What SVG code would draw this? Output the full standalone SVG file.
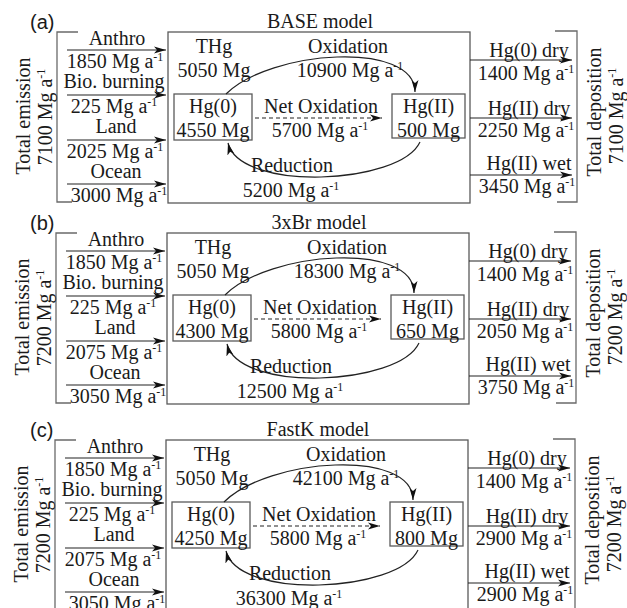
<svg xmlns="http://www.w3.org/2000/svg" width="627" height="608" viewBox="0 0 627 608">
<style>
text{font-family:"Liberation Serif","Times New Roman",serif;font-size:20px;fill:#1a1a1a}
text.lab{font-family:"Liberation Sans",Arial,sans-serif;font-size:20px}
.m{text-anchor:middle}
.box{fill:none;stroke:#5a5a5a;stroke-width:1.3}
.br{fill:none;stroke:#6a6a6a;stroke-width:1.3}
.ar{fill:none;stroke:#222;stroke-width:1.2;marker-end:url(#ah)}
.ds{fill:none;stroke:#222;stroke-width:1.2;stroke-dasharray:4 3;marker-end:url(#ah)}
</style>
<defs>
<marker id="ah" viewBox="0 0 12 8" refX="12" refY="4" markerWidth="12" markerHeight="8" orient="auto" markerUnits="userSpaceOnUse">
<path d="M0,0.5 L12,4 L0,7.5 L3,4 Z" fill="#111"/>
</marker>
</defs>
<rect width="627" height="608" fill="#fff"/>

<!-- Panel (a) -->
<g id="panel-a">
<text class="lab" x="30" y="29">(a)</text>
<g id="a-emission">
<path class="br" d="M78,32 H57 V202 H72"/>
<text class="m" transform="translate(30,116) rotate(-90)">Total emission</text>
<text class="m" transform="translate(52,117) rotate(-90)">7100 Mg a<tspan dy="-7" font-size="12">-1</tspan></text>
</g>
<g id="a-anthro"><text class="m" x="117" y="45">Anthro</text><text class="m" x="115" y="68">1850 Mg a<tspan dy="-7" font-size="12">-1</tspan></text></g>
<g id="a-bio"><text class="m" x="114" y="88">Bio. burning</text><text class="m" x="114" y="113">225 Mg a<tspan dy="-7" font-size="12">-1</tspan></text></g>
<g id="a-land"><text class="m" x="116" y="133">Land</text><text class="m" x="115" y="158">2025 Mg a<tspan dy="-7" font-size="12">-1</tspan></text></g>
<g id="a-ocean"><text class="m" x="116" y="178">Ocean</text><text class="m" x="119" y="202">3000 Mg a<tspan dy="-7" font-size="12">-1</tspan></text></g>
<g id="a-model">
<rect class="box" x="168" y="32" width="302" height="171"/>
<text class="m" x="320" y="28">BASE model</text>
</g>
<g id="a-thg"><text class="m" x="214" y="53">THg</text><text class="m" x="214" y="77">5050 Mg</text></g>
<g id="a-hg0"><rect class="box" x="174" y="94" width="78" height="46"/><text class="m" x="213" y="113">Hg(0)</text><text class="m" x="213" y="137">4550 Mg</text></g>
<g id="a-hg2"><rect class="box" x="392" y="94" width="73" height="44"/><text class="m" x="428.5" y="113">Hg(II)</text><text class="m" x="428.5" y="137">500 Mg</text></g>
<g id="a-hg0dry"><text class="m" x="529" y="57">Hg(0) dry</text><text class="m" x="526" y="80">1400 Mg a<tspan dy="-7" font-size="12">-1</tspan></text></g>
<g id="a-hg2dry"><text class="m" x="529" y="115">Hg(II) dry</text><text class="m" x="526" y="137">2250 Mg a<tspan dy="-7" font-size="12">-1</tspan></text></g>
<g id="a-hg2wet"><text class="m" x="529" y="170">Hg(II) wet</text><text class="m" x="527" y="193">3450 Mg a<tspan dy="-7" font-size="12">-1</tspan></text></g>
<g id="a-deposition">
<path class="br" d="M555,31 H577 V202 H557"/>
<text class="m" transform="translate(601,112) rotate(-90)">Total deposition</text>
<text class="m" transform="translate(623,116) rotate(-90)">7100 Mg a<tspan dy="-7" font-size="12">-1</tspan></text>
</g>
<g id="a-connectors">
<line class="ar" x1="67" y1="50" x2="166" y2="50"/>
<line class="ar" x1="67" y1="95" x2="166" y2="95"/>
<line class="ar" x1="67" y1="140" x2="166" y2="140"/>
<line class="ar" x1="67" y1="184" x2="166" y2="184"/>
<line class="ar" x1="470" y1="60" x2="572" y2="60"/>
<line class="ar" x1="470" y1="118" x2="572" y2="118"/>
<line class="ar" x1="470" y1="175" x2="572" y2="175"/>
<path class="ar" d="M226,94 C270,50 415,40 415,92"/>
<line class="ds" x1="255" y1="118" x2="382" y2="118"/>
<path class="ar" d="M420,142 C400,185 240,192 228,143"/>
<text class="m" x="348" y="53">Oxidation</text>
<text class="m" x="350" y="77">10900 Mg a<tspan dy="-7" font-size="12">-1</tspan></text>
<text class="m" x="321" y="113">Net Oxidation</text>
<text class="m" x="320" y="137">5700 Mg a<tspan dy="-7" font-size="12">-1</tspan></text>
<text class="m" x="292" y="172">Reduction</text>
<text class="m" x="291" y="197">5200 Mg a<tspan dy="-7" font-size="12">-1</tspan></text>
</g>
</g>

<!-- Panel (b) -->
<g id="panel-b" transform="translate(-1,201)">
<text class="lab" x="31" y="29">(b)</text>
<g id="b-emission">
<path class="br" d="M78,32 H57 V202 H72"/>
<text class="m" transform="translate(30,116) rotate(-90)">Total emission</text>
<text class="m" transform="translate(52,117) rotate(-90)">7200 Mg a<tspan dy="-7" font-size="12">-1</tspan></text>
</g>
<g id="b-anthro"><text class="m" x="117" y="45">Anthro</text><text class="m" x="115" y="68">1850 Mg a<tspan dy="-7" font-size="12">-1</tspan></text></g>
<g id="b-bio"><text class="m" x="114" y="88">Bio. burning</text><text class="m" x="114" y="113">225 Mg a<tspan dy="-7" font-size="12">-1</tspan></text></g>
<g id="b-land"><text class="m" x="116" y="133">Land</text><text class="m" x="115" y="158">2075 Mg a<tspan dy="-7" font-size="12">-1</tspan></text></g>
<g id="b-ocean"><text class="m" x="116" y="178">Ocean</text><text class="m" x="119" y="202">3050 Mg a<tspan dy="-7" font-size="12">-1</tspan></text></g>
<g id="b-model">
<rect class="box" x="168" y="32" width="302" height="171"/>
<text class="m" x="320" y="28">3xBr model</text>
</g>
<g id="b-thg"><text class="m" x="214" y="53">THg</text><text class="m" x="214" y="77">5050 Mg</text></g>
<g id="b-hg0"><rect class="box" x="174" y="94" width="78" height="46"/><text class="m" x="213" y="113">Hg(0)</text><text class="m" x="213" y="137">4300 Mg</text></g>
<g id="b-hg2"><rect class="box" x="392" y="94" width="73" height="44"/><text class="m" x="428.5" y="113">Hg(II)</text><text class="m" x="428.5" y="137">650 Mg</text></g>
<g id="b-hg0dry"><text class="m" x="529" y="57">Hg(0) dry</text><text class="m" x="526" y="80">1400 Mg a<tspan dy="-7" font-size="12">-1</tspan></text></g>
<g id="b-hg2dry"><text class="m" x="529" y="115">Hg(II) dry</text><text class="m" x="526" y="137">2050 Mg a<tspan dy="-7" font-size="12">-1</tspan></text></g>
<g id="b-hg2wet"><text class="m" x="529" y="170">Hg(II) wet</text><text class="m" x="527" y="193">3750 Mg a<tspan dy="-7" font-size="12">-1</tspan></text></g>
<g id="b-deposition">
<path class="br" d="M555,31 H577 V202 H557"/>
<text class="m" transform="translate(601,112) rotate(-90)">Total deposition</text>
<text class="m" transform="translate(623,116) rotate(-90)">7200 Mg a<tspan dy="-7" font-size="12">-1</tspan></text>
</g>
<g id="b-connectors">
<line class="ar" x1="67" y1="50" x2="166" y2="50"/>
<line class="ar" x1="67" y1="95" x2="166" y2="95"/>
<line class="ar" x1="67" y1="140" x2="166" y2="140"/>
<line class="ar" x1="67" y1="184" x2="166" y2="184"/>
<line class="ar" x1="470" y1="60" x2="572" y2="60"/>
<line class="ar" x1="470" y1="118" x2="572" y2="118"/>
<line class="ar" x1="470" y1="175" x2="572" y2="175"/>
<path class="ar" d="M226,94 C270,50 415,40 415,92"/>
<line class="ds" x1="255" y1="118" x2="382" y2="118"/>
<path class="ar" d="M420,142 C400,185 240,192 228,143"/>
<text class="m" x="348" y="53">Oxidation</text>
<text class="m" x="348" y="77">18300 Mg a<tspan dy="-7" font-size="12">-1</tspan></text>
<text class="m" x="321" y="113">Net Oxidation</text>
<text class="m" x="320" y="137">5800 Mg a<tspan dy="-7" font-size="12">-1</tspan></text>
<text class="m" x="292" y="172">Reduction</text>
<text class="m" x="291" y="197">12500 Mg a<tspan dy="-7" font-size="12">-1</tspan></text>
</g>
</g>

<!-- Panel (c) -->
<g id="panel-c" transform="translate(-2,408)">
<text class="lab" x="32" y="29">(c)</text>
<g id="c-emission">
<path class="br" d="M78,32 H57 V202 H72"/>
<text class="m" transform="translate(30,116) rotate(-90)">Total emission</text>
<text class="m" transform="translate(52,117) rotate(-90)">7200 Mg a<tspan dy="-7" font-size="12">-1</tspan></text>
</g>
<g id="c-anthro"><text class="m" x="117" y="45">Anthro</text><text class="m" x="115" y="68">1850 Mg a<tspan dy="-7" font-size="12">-1</tspan></text></g>
<g id="c-bio"><text class="m" x="114" y="88">Bio. burning</text><text class="m" x="114" y="113">225 Mg a<tspan dy="-7" font-size="12">-1</tspan></text></g>
<g id="c-land"><text class="m" x="116" y="133">Land</text><text class="m" x="115" y="158">2075 Mg a<tspan dy="-7" font-size="12">-1</tspan></text></g>
<g id="c-ocean"><text class="m" x="116" y="178">Ocean</text><text class="m" x="119" y="202">3050 Mg a<tspan dy="-7" font-size="12">-1</tspan></text></g>
<g id="c-model">
<rect class="box" x="168" y="32" width="302" height="171"/>
<text class="m" x="320" y="28">FastK model</text>
</g>
<g id="c-thg"><text class="m" x="214" y="53">THg</text><text class="m" x="214" y="77">5050 Mg</text></g>
<g id="c-hg0"><rect class="box" x="174" y="94" width="78" height="46"/><text class="m" x="213" y="113">Hg(0)</text><text class="m" x="213" y="137">4250 Mg</text></g>
<g id="c-hg2"><rect class="box" x="392" y="94" width="73" height="44"/><text class="m" x="428.5" y="113">Hg(II)</text><text class="m" x="428.5" y="137">800 Mg</text></g>
<g id="c-hg0dry"><text class="m" x="529" y="57">Hg(0) dry</text><text class="m" x="526" y="80">1400 Mg a<tspan dy="-7" font-size="12">-1</tspan></text></g>
<g id="c-hg2dry"><text class="m" x="529" y="115">Hg(II) dry</text><text class="m" x="526" y="137">2900 Mg a<tspan dy="-7" font-size="12">-1</tspan></text></g>
<g id="c-hg2wet"><text class="m" x="529" y="170">Hg(II) wet</text><text class="m" x="527" y="193">2900 Mg a<tspan dy="-7" font-size="12">-1</tspan></text></g>
<g id="c-deposition">
<path class="br" d="M555,31 H577 V202 H557"/>
<text class="m" transform="translate(601,112) rotate(-90)">Total deposition</text>
<text class="m" transform="translate(623,116) rotate(-90)">7200 Mg a<tspan dy="-7" font-size="12">-1</tspan></text>
</g>
<g id="c-connectors">
<line class="ar" x1="67" y1="50" x2="166" y2="50"/>
<line class="ar" x1="67" y1="95" x2="166" y2="95"/>
<line class="ar" x1="67" y1="140" x2="166" y2="140"/>
<line class="ar" x1="67" y1="184" x2="166" y2="184"/>
<line class="ar" x1="470" y1="60" x2="572" y2="60"/>
<line class="ar" x1="470" y1="118" x2="572" y2="118"/>
<line class="ar" x1="470" y1="175" x2="572" y2="175"/>
<path class="ar" d="M226,94 C270,50 415,40 415,92"/>
<line class="ds" x1="255" y1="118" x2="382" y2="118"/>
<path class="ar" d="M420,142 C400,185 240,192 228,143"/>
<text class="m" x="348" y="53">Oxidation</text>
<text class="m" x="348" y="77">42100 Mg a<tspan dy="-7" font-size="12">-1</tspan></text>
<text class="m" x="321" y="113">Net Oxidation</text>
<text class="m" x="320" y="137">5800 Mg a<tspan dy="-7" font-size="12">-1</tspan></text>
<text class="m" x="292" y="172">Reduction</text>
<text class="m" x="291" y="197">36300 Mg a<tspan dy="-7" font-size="12">-1</tspan></text>
</g>
</g>
</svg>
